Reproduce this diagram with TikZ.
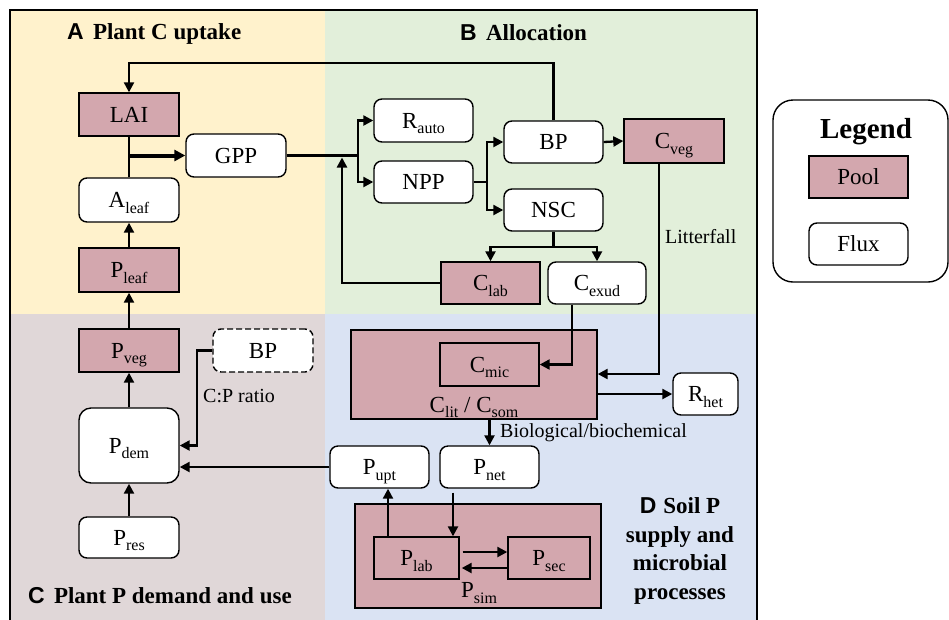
\documentclass[tikz,border=0pt]{standalone}
\usepackage{fontspec}
\setmainfont{Liberation Serif}
\newfontfamily\lsans{Liberation Sans}
\usetikzlibrary{arrows.meta,calc}
\definecolor{cA}{HTML}{FFF2CC}
\definecolor{cB}{HTML}{E2EFDA}
\definecolor{cC}{HTML}{E0D7D8}
\definecolor{cD}{HTML}{DAE3F3}
\definecolor{poolc}{HTML}{D3A7AE}
\newcommand{\lsub}[1]{\smash{\raisebox{-5.5pt}{\fontsize{16}{16}\selectfont #1}}}
\tikzset{
  box/.style={draw=black, line width=1.4pt, minimum width=100pt, minimum height=43pt,
    inner sep=0pt, font=\fontsize{23}{25}\selectfont, text height=15pt, text depth=0pt},
  pool/.style={box, fill=poolc},
  flux/.style={box, fill=white, rounded corners=8pt},
  arr/.style={line width=2.3pt, -{Triangle[length=10pt,width=10pt]}},
  ln/.style={line width=2.3pt},
  lbl/.style={font=\fontsize{20}{22}\selectfont, inner sep=0pt, anchor=west},
  ttl/.style={font=\fontsize{23}{26}\selectfont\bfseries, inner sep=0pt, anchor=base west},
  plain/.style={inner sep=0pt, font=\fontsize{23}{25}\selectfont, text height=15pt, text depth=0pt},
}
\begin{document}
\begin{tikzpicture}[x=1pt,y=-1pt]
\useasboundingbox (0,0) rectangle (949,619);
\clip (0,0) rectangle (949,619);
% panels
\fill[cA] (10,10) rectangle (325,314);
\fill[cB] (325,10) rectangle (757,314);
\fill[cC] (10,314) rectangle (325,625);
\fill[cD] (325,314) rectangle (757,625);
\draw[line width=1.4pt] (10,625) -- (10,10) -- (757,10) -- (757,625);
% titles
\node[ttl] (tA) at (67,39.5) {{\lsans A}\hspace{0.4em}Plant C uptake};
\node[ttl] (tB) at (460,40) {{\lsans B}\hspace{0.4em}Allocation};
\node[ttl] (tC) at (28,603) {{\lsans C}\hspace{0.4em}Plant P demand and use};
\node[font=\fontsize{23}{28.5}\selectfont\bfseries, align=center, inner sep=0pt] (tD) at (680,551)
  {{\lsans D}\hspace{0.3em}Soil P\\supply and\\microbial\\processes};
% A nodes
\node[pool] (lai) at (129,114.5) {LAI};
\node[flux] (gpp) at (236,155.5) {GPP};
\node[flux, minimum height=44pt] (aleaf) at (129,200) {A\lsub{leaf}};
\node[pool, minimum height=44pt] (pleaf) at (129,270) {P\lsub{leaf}};
% B nodes
\node[flux, minimum width=99pt] (rauto) at (423.5,120.5) {R\lsub{auto}};
\node[flux, minimum width=99pt, minimum height=42pt] (npp) at (423.5,182) {NPP};
\node[flux, minimum width=99pt, minimum height=42pt] (bp) at (553.5,142) {BP};
\node[flux, minimum width=99pt, minimum height=42pt] (nsc) at (553.5,210) {NSC};
\node[pool, minimum height=44pt] (cveg) at (674,141) {C\lsub{veg}};
\node[pool, minimum width=99pt, minimum height=42pt] (clab) at (490.5,283) {C\lsub{lab}};
\node[flux, minimum width=98pt, minimum height=42pt] (cexud) at (597,283) {C\lsub{exud}};
% D nodes
\node[pool, minimum width=246pt, minimum height=89pt] (clit) at (474,374.5) {};
\node[plain] (clitlbl) at (474,404.5) {C\lsub{lit} / C\lsub{som}};
\node[pool, minimum width=99pt] (cmic) at (489.5,364.5) {C\lsub{mic}};
\node[flux, minimum width=65pt, minimum height=42pt] (rhet) at (705.5,394) {R\lsub{het}};
\node[flux, minimum width=99pt, minimum height=42pt] (pnet) at (489.5,467) {P\lsub{net}};
\node[flux, minimum width=99pt, minimum height=42pt] (pupt) at (379.5,467) {P\lsub{upt}};
\node[pool, minimum width=246pt, minimum height=104pt] (psim) at (478,556) {};
\node[plain] (psimlbl) at (479,590) {P\lsub{sim}};
\node[pool, minimum width=85pt, minimum height=42pt] (plab) at (416.5,558) {P\lsub{lab}};
\node[pool, minimum width=82pt, minimum height=42pt] (psec) at (549,558) {P\lsub{sec}};
% C nodes
\node[pool] (pveg) at (129,350.5) {P\lsub{veg}};
\node[flux, dash pattern=on 6pt off 3pt] (bpd) at (263,350.5) {BP};
\node[flux, minimum height=75pt, rounded corners=12pt] (pdem) at (129,445.5) {P\lsub{dem}};
\node[flux, minimum height=41pt] (pres) at (129,537.5) {P\lsub{res}};
% legend
\node[draw, line width=1.4pt, rounded corners=20pt, minimum width=175pt, minimum height=182pt, fill=white] (leg) at (860.5,191) {};
\node[font=\fontsize{29}{30}\selectfont\bfseries, inner sep=0pt, anchor=base] (legt) at (866,138.5) {Legend};
\node[pool, minimum width=99pt, minimum height=42pt] (lpool) at (858.5,177) {Pool};
\node[flux, minimum width=99pt, minimum height=42pt] (lflux) at (858.5,244) {Flux};
% coordinates
\coordinate (topy) at (0,63);
\coordinate (gsplit) at (358,155.5);
\coordinate (labin) at (342,157.5);
\coordinate (nsplit) at (487,182);
\coordinate (nscy) at (0,247);
\coordinate (cvx) at (659,374);
\coordinate (cpc) at (197,0);
% A connectors
\draw[arr] (bp.north) |- (lai.north |- topy) -- (lai.north);
\draw[ln] (aleaf.north) -- (lai.south);
\draw[line width=4pt, -{Triangle[length=11pt,width=11pt]}] (lai.south |- gpp.west) -- (gpp.west);
\draw[arr] (pleaf.north) -- (aleaf.south);
\draw[arr] (pveg.north) -- (pleaf.south);
% B connectors
\draw[ln] (gpp.east) -- (gsplit);
\draw[arr] (gsplit) |- (rauto.west);
\draw[arr] (gsplit) |- (npp.west);
\draw[arr] (clab.west) -| (labin);
\draw[ln] (npp.east) -- (nsplit);
\draw[arr] (nsplit) |- (bp.west);
\draw[arr] (nsplit) |- (nsc.west);
\draw[arr] (bp.east) -- (cveg.west);
\draw[ln] (nsc.south) -- (nsc.south |- nscy);
\draw[arr] (nsc.south |- nscy) -| (clab.north);
\draw[arr] (nsc.south |- nscy) -| (cexud.north);
% D connectors
\draw[arr] ([xshift=-15pt]cveg.south) -- (cvx) -- (cvx -| clit.east);
\node[lbl] (litter) at (665,237) {Litterfall};
\draw[arr] ([xshift=-25.3pt]cexud.south) |- (cmic.east);
\draw[arr] (clit.east |- rhet.west) -- (rhet.west);
\draw[arr] (clit.south -| pnet.north) -- (pnet.north);
\node[lbl] (biol) at (500,433) {Biological/biochemical};
\draw[arr] (pupt.west) -- (pupt.west -| pdem.east);
\draw[arr] (plab.north -| 388,0) -- (pupt.south -| 388,0);
\draw[arr, shorten <=4pt] (pnet.south -| 453,0) -- (plab.north -| 453,0);
\draw[arr, shorten <=3pt] ([yshift=6pt]plab.east) -- ([yshift=6pt]psec.west);
\draw[arr, shorten >=2pt] ([yshift=-10pt]psec.west) -- ([yshift=-10pt]plab.east);
% C connectors
\draw[arr] (bpd.west) -| (cpc |- pdem.east) -- (pdem.east);
\node[lbl] (cpr) at (203,396) {C:P ratio};
\draw[arr] (pdem.north) -- (pveg.south);
\draw[arr] (pres.north) -- (pdem.south);
\end{tikzpicture}
\end{document}
